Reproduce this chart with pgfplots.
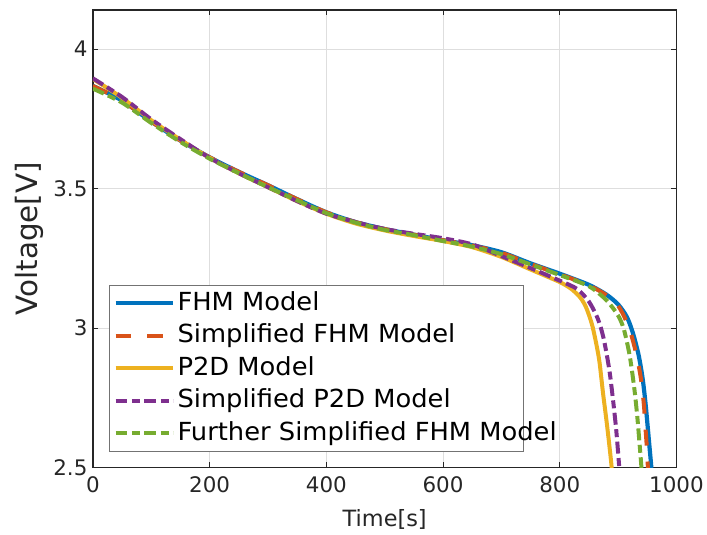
\documentclass[border=0pt]{standalone}
\usepackage{pgfplots}
\pgfplotsset{compat=1.18}
\usepackage{fontspec}
\setmainfont{DejaVu Sans}
\newfontfamily\legfont[FakeStretch=1.035]{DejaVu Sans}

\definecolor{mblue}{rgb}{0,0.447,0.741}
\definecolor{morange}{rgb}{0.85,0.325,0.098}
\definecolor{myellow}{rgb}{0.929,0.694,0.125}
\definecolor{mpurple}{rgb}{0.494,0.184,0.556}
\definecolor{mgreen}{rgb}{0.466,0.674,0.188}
\definecolor{axgray}{HTML}{262626}

\begin{document}
\begin{tikzpicture}
\begin{axis}[
  scale only axis,
  width=584bp, height=458bp,
  xmin=0, xmax=1000,
  ymin=2.5, ymax=4.14,
  xtick={0,200,...,1000},
  ytick={2.5,3,3.5,4},
  /pgf/number format/assume math mode=true,
  /pgf/number format/1000 sep={},
  tick label style={font=\fontsize{21.5}{24}\selectfont, color=axgray},
  xticklabel style={yshift=-5bp},
  yticklabel style={xshift=-2bp},
  tick align=inside,
  major tick length=5.5bp,
  tick style={axgray, line width=0.9bp},
  axis line style={axgray, line width=1.2bp},
  grid=major,
  grid style={color=black!13, line width=0.8bp},
  xlabel={Time[s]},
  ylabel={Voltage[V]},
  xlabel style={font=\fontsize{22.5}{26}\selectfont, color=axgray,
    at={(axis description cs:0.5,-0.1288)}, anchor=base},
  ylabel style={font=\fontsize{29.5}{33}\selectfont, color=axgray,
    at={(axis description cs:-0.0954,0.5)}, anchor=base},
  clip=true,
  every axis plot/.append style={smooth, tension=0.45},
  legend cell align=left,
  legend image code/.code={\draw[#1, sharp plot] (0bp,0bp) -- (58bp,0bp);},
  legend style={at={(0.0274,0.3996)}, anchor=north west,
    font=\legfont\fontsize{25}{27}\selectfont, draw=black!55, line width=1bp,
    fill=white, inner xsep=4bp, inner ysep=1.5bp, row sep=0pt,
    nodes={inner xsep=2bp, inner ysep=4.3bp, text height=19bp, text depth=5bp}},
]
% FHM Model
\addplot[mblue, line width=4.2bp] coordinates {
(0,3.868) (50,3.815) (100,3.74) (150,3.672) (200,3.612) (250,3.56) (300,3.512)
(350,3.462) (400,3.415) (450,3.38) (500,3.355) (550,3.335) (600,3.315) (650,3.297)
(700,3.272) (750,3.232) (800,3.195) (850,3.155) (880,3.12) (900,3.085) (915,3.04)
(925,2.985) (935,2.905) (942,2.82) (947,2.73) (951,2.64) (954,2.57) (957,2.5) (959,2.43)};
\addlegendentry{FHM Model}
% Simplified FHM Model
\addplot[morange, line width=4bp, dash pattern=on 16bp off 16bp] coordinates {
(0,3.868) (50,3.815) (100,3.74) (150,3.672) (200,3.612) (250,3.56) (300,3.512)
(350,3.462) (400,3.415) (450,3.38) (500,3.355) (550,3.335) (600,3.315) (650,3.296)
(700,3.27) (750,3.23) (800,3.193) (850,3.153) (880,3.118) (900,3.08) (913,3.03)
(922,2.98) (932,2.90) (939,2.82) (944,2.73) (947,2.64) (950,2.55) (951,2.5) (952,2.45)};
\addlegendentry{Simplified FHM Model}
% P2D Model
\addplot[myellow, line width=4bp] coordinates {
(0,3.893) (50,3.825) (100,3.745) (150,3.675) (200,3.61) (250,3.555) (300,3.505)
(350,3.455) (400,3.41) (450,3.375) (500,3.35) (550,3.33) (600,3.312) (650,3.29)
(700,3.255) (750,3.21) (800,3.165) (820,3.14) (835,3.11) (845,3.075) (855,3.015)
(862,2.95) (868,2.88) (874,2.77) (880,2.67) (885,2.58) (889,2.5) (890,2.45)};
\addlegendentry{P2D Model}
% Simplified P2D Model
\addplot[mpurple, line width=4bp, dash pattern=on 12bp off 4.5bp on 8bp off 4.5bp] coordinates {
(0,3.895) (50,3.828) (100,3.748) (150,3.677) (200,3.61) (250,3.555) (300,3.505)
(350,3.455) (400,3.41) (450,3.38) (500,3.355) (550,3.338) (600,3.322) (650,3.30)
(700,3.258) (750,3.215) (800,3.17) (830,3.14) (850,3.095) (865,3.035) (875,2.965)
(885,2.85) (892,2.73) (897,2.63) (902,2.5) (903,2.45)};
\addlegendentry{Simplified P2D Model}
% Further Simplified FHM Model
\addplot[mgreen, line width=4bp, dash pattern=on 12bp off 4.5bp on 8bp off 4.5bp] coordinates {
(0,3.858) (50,3.808) (100,3.735) (150,3.667) (200,3.607) (250,3.555) (300,3.505)
(350,3.458) (400,3.412) (450,3.378) (500,3.352) (550,3.333) (600,3.312) (650,3.292)
(700,3.265) (750,3.228) (800,3.19) (850,3.15) (880,3.10) (900,3.045) (910,2.995)
(920,2.9) (928,2.78) (933,2.68) (937,2.58) (940,2.5) (941,2.45)};
\addlegendentry{Further Simplified FHM Mo\rlap{del}}
\end{axis}
\path[use as bounding box] (-93bp,-67bp) rectangle (614bp,468bp);
\end{tikzpicture}
\end{document}
